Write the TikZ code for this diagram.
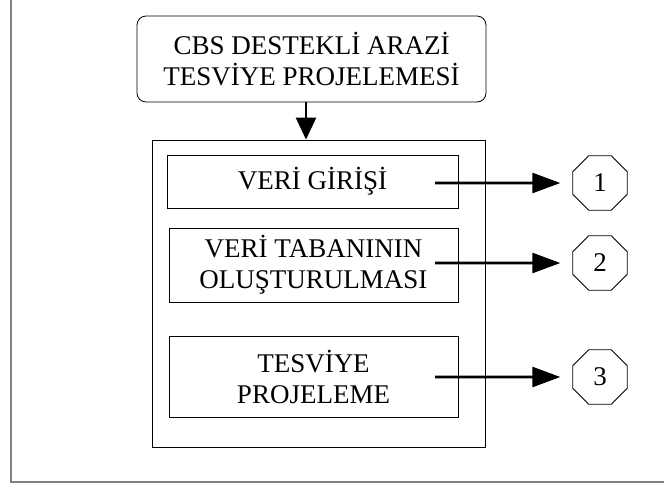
\documentclass[tikz,border=0pt]{standalone}
\usepackage{fontspec}
\setmainfont{Liberation Serif}
\usetikzlibrary{arrows.meta,shapes.geometric}
\begin{document}
\begin{tikzpicture}[x=1pt,y=-1pt]
    % Define styles
    \tikzset{
        frame/.style={line width=2pt, draw=black!50},
        box/.style={draw, line width=0.8pt, align=center, inner sep=0pt,
            font=\fontsize{27}{31}\selectfont},
        title/.style={box, rounded corners=9pt},
        octa/.style={draw, line width=0.8pt, regular polygon, regular polygon sides=8,
            minimum size=59pt, inner sep=0pt, font=\fontsize{27}{31}\selectfont},
        arr/.style={line width=2.6pt, -{Triangle[length=28pt,width=20pt]}, shorten >=12pt},
        down/.style={line width=2.6pt, -{Triangle[length=22pt,width=20pt]}}
    }
    \useasboundingbox (0,0) rectangle (664,488);

    % Outer frame
    \draw[frame] (11,0) -- (11,482) -- (664,482);

    % Title box
    \node[title, minimum width=349pt, minimum height=86pt] (cbs) at (311.5,59)
        {CBS DESTEKL\.I ARAZ\.I\\TESV\.IYE PROJELEMES\.I};

    % Main block
    \node[box, minimum width=333pt, minimum height=307pt] (main) at (318.5,293.5) {};
    \draw[down] (cbs.south -| 306,0) -- (main.north -| 306,0);

    % Steps
    \node[box, minimum width=291pt, minimum height=53pt] (giris) at (312.5,181.5) {VER\.I G\.IR\.I\c{S}\.I};
    \node[box, minimum width=289pt, minimum height=74pt] (taban) at (313.5,265) {VER\.I TABANININ\\OLU\c{S}TURULMASI};
    \node[box, minimum width=289pt, minimum height=81pt] (tesviye) at (313.5,376.5) {TESV\.IYE\\PROJELEME};

    % Numbered octagons
    \node[octa] (n1) at (600,183) {1};
    \node[octa] (n2) at (600,263) {2};
    \node[octa] (n3) at (600,377) {3};

    % Arrows to octagons
    \coordinate (s1) at (435,183);
    \coordinate (s2) at (435,263);
    \coordinate (s3) at (435,377);
    \draw[arr] (s1) -- (n1.west);
    \draw[arr] (s2) -- (n2.west);
    \draw[arr] (s3) -- (n3.west);
\end{tikzpicture}
\end{document}
